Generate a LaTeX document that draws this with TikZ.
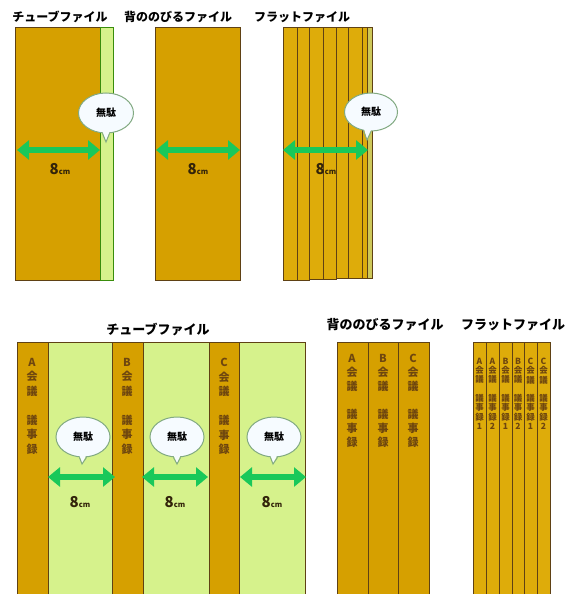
\documentclass[tikz,border=0pt]{standalone}
\usepackage{fontspec}
\newfontfamily\jp{Noto Sans CJK JP}
\usetikzlibrary{arrows.meta,shapes.geometric,calc}
\definecolor{gold}{RGB}{214,160,0}
\definecolor{goldlt}{RGB}{222,172,10}
\definecolor{lgreen}{RGB}{214,242,140}
\definecolor{brownline}{RGB}{95,65,20}
\definecolor{agreen}{RGB}{25,200,90}
\definecolor{bfill}{RGB}{246,251,255}
\definecolor{bedge}{RGB}{130,170,130}
\definecolor{spinetxt}{RGB}{110,70,15}
\definecolor{lbl}{RGB}{50,35,10}
\tikzset{
  goldbox/.style={fill=gold,draw=brownline,line width=0.9pt},
  flatbox/.style={fill=goldlt,draw=brownline,line width=0.9pt},
  greenbox/.style={fill=lgreen,draw=brownline,line width=0.9pt},
  ttl/.style={font=\jp\bfseries\fontsize{12}{12}\selectfont,inner sep=0pt},
  ttlb/.style={font=\jp\bfseries\fontsize{13}{13}\selectfont,inner sep=0pt},
  balloon/.style={ellipse,fill=bfill,draw=bedge,line width=1pt,minimum width=55pt,minimum height=40pt,inner sep=0pt,font=\jp\bfseries\fontsize{10}{10}\selectfont},
  gar/.style={draw=agreen,line width=6pt,{Triangle[width=19pt,length=12pt]}-{Triangle[width=19pt,length=12pt]}},
  cmlbl/.style={inner sep=0pt,text=lbl,font=\jp\bfseries},
  spine/.style={anchor=north,inner sep=0pt,align=center,text=spinetxt,font=\jp\bfseries\fontsize{11}{14.5}\selectfont},
  spineb/.style={anchor=north,inner sep=0pt,align=center,text=spinetxt,font=\jp\bfseries\fontsize{11}{14}\selectfont},
  spinef/.style={anchor=north,inner sep=0pt,align=center,text=spinetxt,font=\jp\bfseries\fontsize{8.5}{9.2}\selectfont},
}
\newcommand{\eightcm}{{\fontsize{15}{15}\selectfont 8}{\fontsize{7.5}{7.5}\selectfont cm}}
\begin{document}
\begin{tikzpicture}[x=1pt,y=-1pt]
\useasboundingbox (0,0) rectangle (569,594);
\fill[white] (0,0) rectangle (569,594);
% ---------- top titles
\node[ttl] (t1) at (60,17) {チューブファイル};
\node[ttl] (t2) at (178,17) {背ののびるファイル};
\node[ttl] (t3) at (302,17) {フラットファイル};
% ---------- top tube file
\draw[goldbox] (15,27) rectangle (100,280);
\draw[greenbox,draw=brownline!60!green] (100,27) rectangle (113,280);
% ---------- top back-extending file
\draw[goldbox] (155,27) rectangle (240,280);
% ---------- top flat file
\draw[flatbox] (283,27) rectangle (297,280);
\draw[flatbox] (297,27) rectangle (309,280);
\draw[flatbox] (309,27) rectangle (323,279);
\draw[flatbox] (323,27) rectangle (336,279);
\draw[flatbox] (336,27) rectangle (348,278);
\draw[flatbox] (348,27) rectangle (362,278);
\draw[flatbox] (362,27) rectangle (367,278);
\draw[flatbox,fill={rgb,255:red,205;green,200;blue,90}] (367,27) rectangle (372,278);
% ---------- top arrows
\coordinate (a1l) at (17,150); \coordinate (a1r) at (100,150);
\coordinate (a2l) at (156,150); \coordinate (a2r) at (240,150);
\coordinate (a3l) at (283,150); \coordinate (a3r) at (368,150);
\draw[gar] (a1l) -- (a1r);
\draw[gar] (a2l) -- (a2r);
\draw[gar] (a3l) -- (a3r);
\node[cmlbl] (c1) at (60,169) {\eightcm};
\node[cmlbl] (c2) at (198,169) {\eightcm};
\node[cmlbl] (c3) at (326,169) {\eightcm};
% ---------- top balloons
\node[balloon] (b1) at (106,113) {無駄};
\coordinate (b1t) at (106,142);
\fill[bfill] ($(b1.center)+(-5,14)$) -- (b1t) -- ($(b1.center)+(5,14)$) -- cycle;
\draw[bedge,line width=1pt] (b1.-100) -- (b1t) -- (b1.-80);
\node[balloon,minimum width=53pt,minimum height=38pt] (b2) at (371,112) {無駄};
\coordinate (b2t) at (367,140);
\fill[bfill] ($(b2.center)+(-8,13)$) -- (b2t) -- ($(b2.center)+(2,13)$) -- cycle;
\draw[bedge,line width=1pt] (b2.-112) -- (b2t) -- (b2.-90);
% ---------- bottom titles
\node[ttlb] (t4) at (158,330) {チューブファイル};
\node[ttlb] (t5) at (385,325) {背ののびるファイル};
\node[ttlb] (t6) at (513,325) {フラットファイル};
% ---------- bottom tube file
\draw[goldbox] (17,342) rectangle (48,600);
\draw[greenbox] (48,342) rectangle (112,600);
\draw[goldbox] (112,342) rectangle (143,600);
\draw[greenbox] (143,342) rectangle (209,600);
\draw[goldbox] (209,342) rectangle (239,600);
\draw[greenbox] (239,342) rectangle (305,600);
\node[spine] (s1) at (32,358) {A\\会\\議\\[14.5pt]議\\事\\録};
\node[spine] (s2) at (127,358) {B\\会\\議\\[14.5pt]議\\事\\録};
\node[spine] (s3) at (224,358) {C\\会\\議\\[14.5pt]議\\事\\録};
% bottom arrows
\coordinate (a4l) at (48,477); \coordinate (a4r) at (115,477);
\coordinate (a5l) at (142,477); \coordinate (a5r) at (208,477);
\coordinate (a6l) at (240,477); \coordinate (a6r) at (306,477);
\draw[gar] (a4l) -- (a4r);
\draw[gar] (a5l) -- (a5r);
\draw[gar] (a6l) -- (a6r);
\node[cmlbl] (c4) at (80,502) {\eightcm};
\node[cmlbl] (c5) at (175,502) {\eightcm};
\node[cmlbl] (c6) at (272,502) {\eightcm};
% bottom balloons
\node[balloon,minimum width=54pt] (b3) at (83,437) {無駄};
\node[balloon,minimum width=54pt] (b4) at (177,437) {無駄};
\node[balloon,minimum width=54pt] (b5) at (274,437) {無駄};
\coordinate (b3t) at (82,464);
\coordinate (b4t) at (177,464);
\coordinate (b5t) at (273,464);
\foreach \b in {b3,b4,b5}{
  \fill[bfill] ($(\b.center)+(-5,14)$) -- (\b t) -- ($(\b.center)+(5,14)$) -- cycle;
  \draw[bedge,line width=1pt] (\b.-100) -- (\b t) -- (\b.-80);
}
% ---------- bottom back-extending files
\draw[goldbox] (337,342) rectangle (368,600);
\draw[goldbox] (368,342) rectangle (398,600);
\draw[goldbox] (398,342) rectangle (429,600);
\node[spineb] (s4) at (352,354) {A\\会\\議\\[14pt]議\\事\\録};
\node[spineb] (s5) at (383,354) {B\\会\\議\\[14pt]議\\事\\録};
\node[spineb] (s6) at (413,354) {C\\会\\議\\[14pt]議\\事\\録};
% ---------- bottom flat files
\draw[flatbox] (473,342) rectangle (486,600);
\draw[flatbox] (486,342) rectangle (499,600);
\draw[flatbox] (499,342) rectangle (512,600);
\draw[flatbox] (512,342) rectangle (524,600);
\draw[flatbox] (524,342) rectangle (537,600);
\draw[flatbox] (537,342) rectangle (550,600);
\node[spinef] (f1) at (479.5,358) {A\\会\\議\\[9.5pt]議\\事\\録\\1};
\node[spinef] (f2) at (492.5,358) {A\\会\\議\\[9.5pt]議\\事\\録\\2};
\node[spinef] (f3) at (505.5,358) {B\\会\\議\\[9.5pt]議\\事\\録\\1};
\node[spinef] (f4) at (518,358) {B\\会\\議\\[9.5pt]議\\事\\録\\2};
\node[spinef] (f5) at (530.5,358) {C\\会\\議\\[9.5pt]議\\事\\録\\1};
\node[spinef] (f6) at (543.5,358) {C\\会\\議\\[9.5pt]議\\事\\録\\2};
\end{tikzpicture}
\end{document}
